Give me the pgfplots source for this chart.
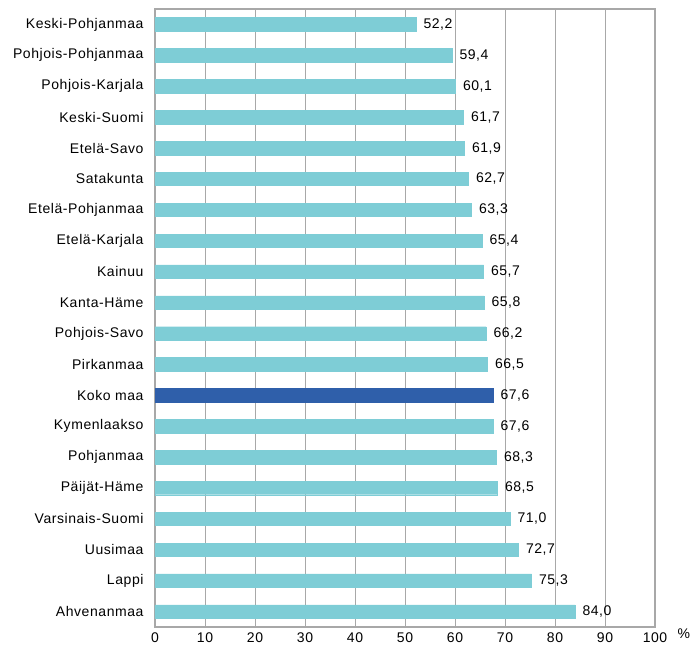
\documentclass[border=0pt]{standalone}
\usepackage{pgfplots}
\pgfplotsset{compat=1.18}
\usepackage{fontspec}
\setmainfont{Liberation Sans}
\newfontfamily\lbl[LetterSpace=4]{Liberation Sans}
\newcommand{\lf}{\lbl\fontsize{14}{16}\selectfont}
\definecolor{barlight}{HTML}{7ECDD6}
\definecolor{bardark}{HTML}{2F5FAA}
\definecolor{gridgray}{HTML}{A8A8A8}
\begin{document}
\begin{tikzpicture}
\useasboundingbox (-155pt,-25pt) rectangle (537pt,627pt);
\begin{axis}[
  at={(0,0)}, anchor=south west,
  scale only axis, width=500pt, height=618pt,
  xbar, bar width=13.5pt, bar shift=0pt,
  xmin=0, xmax=100, ymin=-0.5, ymax=19.5,
  y dir=reverse,
  xtick={0,10,...,100},
  ytick={0,...,19},
  yticklabels={Keski-Pohjanmaa,Pohjois-Pohjanmaa,Pohjois-Karjala,Keski-Suomi,Etelä-Savo,Satakunta,Etelä-Pohjanmaa,Etelä-Karjala,Kainuu,Kanta-Häme,Pohjois-Savo,Pirkanmaa,Koko maa,Kymenlaakso,Pohjanmaa,Päijät-Häme,Varsinais-Suomi,Uusimaa,Lappi,Ahvenanmaa},
  major tick length=0pt,
  xmajorgrids, grid style={gridgray, line width=1pt},
  axis line style={gridgray, line width=1.2pt},
  tick label style={font=\lf},
  /pgf/number format/assume math mode=true,
  xticklabel style={yshift=-2pt},
  yticklabel style={xshift=-8pt},
  nodes near coords,
  nodes near coords style={font=\lf, black, xshift=4pt, /pgf/number format/use comma, /pgf/number format/fixed, /pgf/number format/fixed zerofill, /pgf/number format/precision=1, /pgf/number format/assume math mode=true},
]
\addplot[fill=barlight, draw=barlight] coordinates {
(52.2,0) (59.4,1) (60.1,2) (61.7,3) (61.9,4) (62.7,5) (63.3,6) (65.4,7) (65.7,8) (65.8,9) (66.2,10) (66.5,11)
(67.6,13) (68.3,14) (68.5,15) (71.0,16) (72.7,17) (75.3,18) (84.0,19)};
\addplot[fill=bardark, draw=bardark] coordinates {(67.6,12)};
\end{axis}
\node[font=\lf, anchor=west] at (519pt,-7pt) {\%};
\end{tikzpicture}
\end{document}
